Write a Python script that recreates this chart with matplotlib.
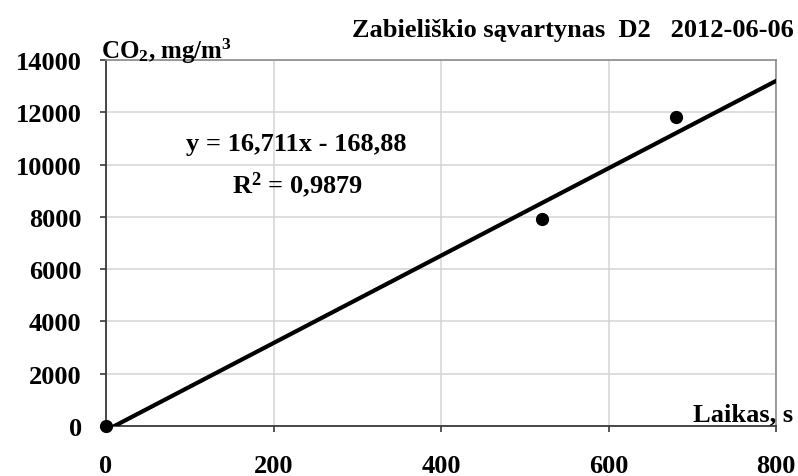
import numpy as np
import matplotlib
matplotlib.use("Agg")
import matplotlib.pyplot as plt

# measured points (time in s, CO2 in mg/m3)
laikas = [0, 520, 680]
co2 = [10, 7900, 11820]

# trend line as shown on the chart
slope = 16.711
intercept = -168.88
r2 = 0.9879

x_ticks = [0, 200, 400, 600, 800]
y_ticks = [0, 2000, 4000, 6000, 8000, 10000, 12000, 14000]

title = "Zabieliškio sąvartynas  D2   2012-06-06"

plt.rcParams['font.family'] = 'Liberation Serif'
plt.rcParams['font.weight'] = 'bold'
plt.rcParams['mathtext.fontset'] = 'custom'
plt.rcParams['mathtext.rm'] = 'Liberation Serif:bold'
plt.rcParams['mathtext.bf'] = 'Liberation Serif:bold'
plt.rcParams['mathtext.it'] = 'Liberation Serif:bold:italic'

fig = plt.figure(figsize=(7.98, 4.77), dpi=100)
ax = fig.add_axes([106 / 798, 50 / 477, 670 / 798, 366 / 477])

ax.set_xlim(0, 800)
ax.set_ylim(0, 14000)
ax.set_xticks(x_ticks)
ax.set_yticks(y_ticks)
ax.grid(True, color='#d4d4d4', linewidth=1.1)
ax.set_axisbelow(True)

for side in ['top', 'right']:
    ax.spines[side].set_color('#8c8c8c')
    ax.spines[side].set_linewidth(1.2)
for side in ['left', 'bottom']:
    ax.spines[side].set_color('#3a3a3a')
    ax.spines[side].set_linewidth(1.3)

ax.tick_params(axis='both', direction='out', length=4.5, width=1.2,
               color='#3a3a3a', labelsize=19)
ax.tick_params(axis='x', pad=15.5)
ax.tick_params(axis='y', pad=13)

xs = np.array([0, 800])
ax.plot(xs, slope * xs + intercept, color='black', linewidth=3, zorder=3)
ax.plot(laikas, co2, 'o', color='black', markersize=8.5, clip_on=False, zorder=4)

ax.text(227, 10790, "y = 16,711x - 168,88", ha='center', va='center', fontsize=19)
ax.text(228, 9250, r"R$^\mathrm{2}$ = 0,9879", ha='center', va='center', fontsize=19)

fig.text(794 / 798, 1 - 31 / 477, title, ha='right', va='center', fontsize=19)
fig.text(101 / 798, 1 - 51 / 477, r"CO$_\mathrm{2}$, mg/m$^\mathrm{3}$", ha='left',
         va='center', fontsize=18)
fig.text(793 / 798, 1 - 415 / 477, "Laikas, s", ha='right', va='center', fontsize=19)

fig.savefig("out.png", dpi=100)
